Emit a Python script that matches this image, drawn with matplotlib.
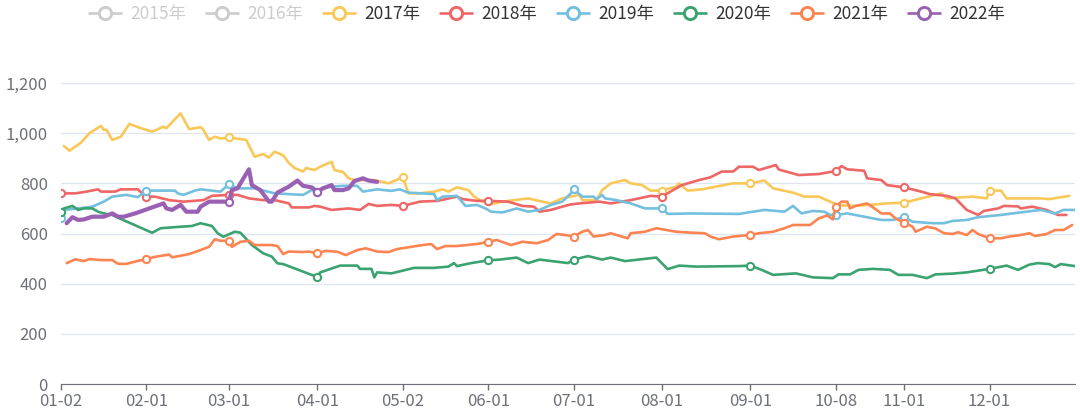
import matplotlib.pyplot as plt
import pandas as pd
from matplotlib.ticker import FuncFormatter

plt.rcParams['font.family'] = ['Noto Sans CJK SC', 'DejaVu Sans']

# category axis: MM-DD of a leap year, without 05-01 and 10-01..10-07 (never traded)
days = pd.date_range('2020-01-02', '2020-12-31').strftime('%m-%d')
skip = ['05-01'] + ['10-0%d' % i for i in range(1, 8)]
categories = [d for d in days if d not in skip]
pos = {d: i for i, d in enumerate(categories)}

tick_labels = ['01-02', '02-01', '03-01', '04-01', '05-02', '06-01',
               '07-01', '08-01', '09-01', '10-08', '11-01', '12-01']

legend_names = ['2015年', '2016年', '2017年', '2018年', '2019年', '2020年', '2021年', '2022年']
legend_colors = ['#cccccc', '#cccccc', '#fac858', '#ee6666', '#73c0de', '#3ba272', '#fc8452', '#9a60b4']
legend_active = [False, False, True, True, True, True, True, True]

# 2017
d17 = ['01-03', '01-05', '01-09', '01-12', '01-16', '01-17', '01-18', '01-20', '01-23', '01-26',
       '01-30', '02-03', '02-07', '02-08', '02-13', '02-16', '02-20', '02-21', '02-23', '02-25',
       '02-27', '03-01', '03-07', '03-10', '03-13', '03-15', '03-17', '03-20', '03-22', '03-24',
       '03-27', '03-28', '03-31', '04-02', '04-06', '04-07', '04-10', '04-12', '04-14', '04-21',
       '04-26', '05-02', '05-04', '05-08', '05-13', '05-16', '05-18', '05-21', '05-25', '05-27',
       '05-30', '06-02', '06-06', '06-15', '06-20', '06-23', '06-27', '07-03', '07-04', '07-09',
       '07-11', '07-14', '07-19', '07-21', '07-25', '07-28', '08-01', '08-06', '08-07', '08-10',
       '08-15', '08-20', '08-26', '09-01', '09-06', '09-09', '09-16', '09-20', '09-25', '09-29',
       '10-09', '10-14', '10-20', '10-26', '11-01', '11-07', '11-14', '11-16', '11-25', '11-30',
       '12-01', '12-05', '12-07', '12-19', '12-22', '12-29']
v17 = [949, 930, 962, 1000, 1029, 1013, 1013, 973, 986, 1037,
       1020, 1006, 1026, 1020, 1079, 1016, 1024, 1013, 973, 986,
       979, 983, 973, 906, 917, 903, 926, 912, 881, 861,
       847, 861, 853, 866, 886, 853, 845, 820, 813, 813,
       800, 824, 760, 760, 767, 776, 767, 784, 773, 747,
       727, 717, 727, 740, 727, 720, 740, 754, 733, 733,
       773, 800, 813, 800, 793, 771, 771, 787, 800, 771,
       776, 787, 800, 800, 811, 780, 763, 747, 747, 727,
       714, 710, 714, 720, 723, 740, 760, 740, 747, 740,
       771, 771, 740, 740, 737, 750]
m17 = ['03-01', '05-02', '08-01', '09-01', '11-01', '12-01']

# 2018
d18 = ['01-02', '01-07', '01-11', '01-15', '01-16', '01-21', '01-23', '01-29', '01-30', '02-01',
       '02-04', '02-09', '02-14', '02-21', '02-24', '03-01', '03-04', '03-08', '03-13', '03-17',
       '03-22', '03-23', '03-29', '03-31', '04-02', '04-06', '04-12', '04-16', '04-19', '04-22',
       '04-27', '05-02', '05-08', '05-14', '05-17', '05-21', '05-23', '05-28', '06-01', '06-08',
       '06-13', '06-17', '06-19', '06-23', '06-27', '06-30', '07-03', '07-10', '07-14', '07-21',
       '07-28', '08-01', '08-04', '08-08', '08-14', '08-18', '08-22', '08-26', '08-28', '09-02',
       '09-04', '09-10', '09-11', '09-18', '09-25', '10-08', '10-10', '10-12', '10-18', '10-19',
       '10-24', '10-26', '11-01', '11-07', '11-10', '11-16', '11-19', '11-23', '11-27', '11-29',
       '12-04', '12-06', '12-11', '12-12', '12-16', '12-21', '12-25', '12-28']
v18 = [760, 760, 767, 776, 767, 767, 776, 776, 765, 747,
       747, 733, 727, 733, 750, 754, 754, 740, 733, 733,
       720, 704, 704, 710, 707, 694, 700, 694, 718, 710,
       714, 710, 727, 730, 737, 747, 737, 730, 730, 727,
       710, 707, 687, 694, 707, 716, 720, 727, 720, 733,
       750, 747, 767, 793, 813, 824, 847, 847, 866, 866,
       853, 873, 855, 833, 837, 849, 869, 856, 850, 820,
       813, 793, 784, 767, 757, 750, 740, 694, 674, 690,
       700, 710, 708, 700, 707, 694, 674, 674]
m18 = ['01-02', '02-01', '03-01', '05-02', '06-01', '08-01', '10-08', '11-01']

# 2019
d19 = ['01-02', '01-03', '01-08', '01-13', '01-17', '01-20', '01-25', '01-29', '02-01', '02-11',
       '02-12', '02-14', '02-18', '02-20', '02-27', '03-01', '03-03', '03-05', '03-10', '03-17',
       '03-22', '03-27', '03-30', '04-01', '04-03', '04-10', '04-15', '04-17', '04-22', '04-27',
       '04-30', '05-04', '05-09', '05-13', '05-14', '05-16', '05-21', '05-24', '05-28', '05-31',
       '06-02', '06-06', '06-11', '06-15', '06-19', '06-23', '06-27', '06-30', '07-01', '07-04',
       '07-08', '07-09', '07-11', '07-12', '07-16', '07-21', '07-26', '08-01', '08-03', '08-11',
       '08-28', '09-02', '09-06', '09-13', '09-16', '09-19', '09-23', '09-27', '09-29', '10-08',
       '10-12', '10-18', '10-24', '10-28', '11-01', '11-04', '11-11', '11-15', '11-18', '11-23',
       '11-27', '12-05', '12-09', '12-14', '12-19', '12-24', '12-27', '12-31']
v19 = [660, 694, 700, 707, 727, 747, 754, 745, 771, 771,
       760, 754, 771, 776, 767, 797, 785, 780, 780, 760,
       757, 754, 773, 767, 784, 790, 790, 767, 776, 770,
       776, 763, 760, 757, 733, 747, 750, 710, 714, 700,
       687, 684, 700, 687, 694, 714, 727, 760, 776, 747,
       747, 737, 754, 740, 733, 720, 700, 700, 678, 680,
       678, 687, 694, 687, 710, 680, 690, 687, 674, 674,
       680, 667, 654, 654, 665, 647, 641, 641, 650, 654,
       665, 674, 680, 687, 694, 680, 694, 694]
m19 = ['01-02', '02-01', '03-01', '04-01', '07-01', '08-01', '10-08', '11-01']

# 2020
d20 = ['01-02', '01-03', '01-06', '01-08', '01-10', '01-13', '01-15', '01-17', '01-20', '01-23',
       '02-03', '02-06', '02-13', '02-17', '02-20', '02-24', '02-26', '02-28', '03-03', '03-05',
       '03-09', '03-13', '03-16', '03-18', '03-20', '03-24', '03-27', '03-30', '04-01', '04-02',
       '04-09', '04-15', '04-16', '04-20', '04-21', '04-22', '04-27', '05-06', '05-13', '05-18',
       '05-20', '05-21', '05-26', '06-01', '06-05', '06-11', '06-15', '06-19', '06-29', '07-01',
       '07-06', '07-11', '07-14', '07-19', '07-30', '08-03', '08-07', '08-13', '08-28', '09-01',
       '09-05', '09-09', '09-17', '09-23', '09-30', '10-09', '10-13', '10-16', '10-21', '10-27',
       '10-30', '11-04', '11-09', '11-12', '11-18', '11-23', '11-27', '12-01', '12-07', '12-11',
       '12-15', '12-18', '12-22', '12-24', '12-26', '12-31']
v20 = [687, 700, 710, 694, 700, 700, 687, 680, 674, 658,
       603, 621, 627, 630, 641, 630, 601, 587, 607, 603,
       554, 521, 508, 481, 478, 461, 448, 435, 427, 445,
       472, 472, 459, 459, 425, 445, 441, 463, 463, 468,
       482, 470, 482, 493, 496, 504, 482, 496, 482, 496,
       510, 496, 504, 490, 504, 458, 472, 468, 470, 472,
       455, 435, 441, 425, 422, 437, 437, 455, 459, 455,
       435, 435, 422, 437, 440, 445, 452, 459, 472, 455,
       476, 482, 478, 466, 478, 470]
m20 = ['01-02', '04-01', '06-01', '07-01', '09-01', '12-01']

# 2021
d21 = ['01-04', '01-07', '01-10', '01-12', '01-16', '01-20', '01-22', '01-25', '01-28', '02-01',
       '02-04', '02-09', '02-10', '02-16', '02-20', '02-23', '02-25', '02-27', '03-01', '03-02',
       '03-05', '03-08', '03-10', '03-16', '03-18', '03-20', '03-22', '03-27', '03-29', '04-01',
       '04-04', '04-08', '04-11', '04-15', '04-18', '04-22', '04-26', '04-29', '05-05', '05-09',
       '05-12', '05-14', '05-17', '05-21', '05-28', '06-01', '06-04', '06-09', '06-13', '06-18',
       '06-22', '06-25', '06-28', '07-01', '07-04', '07-06', '07-08', '07-12', '07-14', '07-16',
       '07-20', '07-21', '07-26', '07-30', '08-06', '08-10', '08-16', '08-18', '08-21', '08-26',
       '09-01', '09-04', '09-09', '09-13', '09-16', '09-22', '09-25', '09-28', '09-30', '10-08',
       '10-10', '10-12', '10-13', '10-15', '10-19', '10-21', '10-24', '10-27', '10-29', '11-01',
       '11-04', '11-05', '11-09', '11-12', '11-15', '11-18', '11-20', '11-23', '11-25', '11-27',
       '12-01', '12-05', '12-08', '12-12', '12-15', '12-17', '12-21', '12-24', '12-27', '12-30']
v21 = [482, 497, 490, 498, 494, 494, 479, 479, 488, 498,
       507, 516, 505, 518, 534, 547, 577, 571, 571, 547,
       567, 571, 554, 554, 550, 518, 528, 526, 528, 521,
       531, 527, 514, 534, 541, 528, 526, 538, 547, 554,
       558, 538, 550, 550, 558, 567, 574, 554, 567, 561,
       574, 598, 594, 588, 607, 614, 588, 594, 601, 594,
       581, 601, 607, 621, 607, 604, 601, 588, 577, 588,
       594, 601, 607, 621, 634, 634, 660, 672, 656, 707,
       727, 727, 700, 710, 720, 705, 680, 680, 660, 643,
       627, 607, 627, 620, 601, 598, 605, 594, 614, 598,
       581, 581, 588, 594, 601, 590, 598, 614, 614, 634]
m21 = ['02-01', '03-01', '04-01', '06-01', '07-01', '09-01', '10-08', '11-01', '12-01']

# 2022
d22 = ['01-04', '01-06', '01-08', '01-10', '01-13', '01-17', '01-20', '01-22', '01-24', '01-28',
       '02-07', '02-08', '02-10', '02-13', '02-15', '02-19', '02-20', '02-23', '03-01', '03-02',
       '03-04', '03-05', '03-08', '03-09', '03-12', '03-15', '03-16', '03-18', '03-22', '03-25',
       '03-27', '03-30', '04-01', '04-03', '04-06', '04-07', '04-10', '04-12', '04-14', '04-17',
       '04-19', '04-22']
v22 = [641, 665, 654, 656, 667, 667, 680, 667, 667, 680,
       720, 700, 694, 714, 687, 687, 707, 727, 727, 773,
       780, 800, 856, 793, 773, 727, 727, 763, 787, 811,
       790, 784, 767, 780, 793, 773, 773, 780, 809, 820,
       811, 806]
m22 = ['03-01', '04-01']

series = [
    ('#fac858', d17, v17, m17, 1.9),
    ('#ee6666', d18, v18, m18, 1.9),
    ('#73c0de', d19, v19, m19, 1.9),
    ('#3ba272', d20, v20, m20, 1.9),
    ('#fc8452', d21, v21, m21, 1.9),
    ('#9a60b4', d22, v22, m22, 3.0),
]

fig = plt.figure(figsize=(10.8, 4.15), dpi=100)
ax = fig.add_axes([61 / 1080, 31 / 415, 1014 / 1080, 301 / 415])

for i, (color, d, v, m, lw) in enumerate(series):
    ax.plot([pos[k] for k in d], v, color=color, lw=lw, zorder=3 + i * 0.1,
            solid_joinstyle='round', solid_capstyle='round')
    lookup = dict(zip(d, v))
    ax.plot([pos[k] for k in m], [lookup[k] for k in m], 'o', ms=5.2, mfc='white',
            mec=color, mew=1.5, zorder=3.05 + i * 0.1)

ax.set_xlim(0, len(categories) - 1)
ax.set_ylim(0, 1200)
ax.set_yticks(range(0, 1201, 200))
ax.yaxis.set_major_formatter(FuncFormatter(lambda y, _: '{:,.0f}'.format(y)))
ax.set_xticks([pos[t] for t in tick_labels])
ax.set_xticklabels(tick_labels)

ax.grid(axis='y', color='#e0e6f1', lw=1)
ax.set_axisbelow(True)
for s in ['top', 'right', 'left']:
    ax.spines[s].set_visible(False)
ax.spines['bottom'].set_color('#6e7079')
ax.spines['bottom'].set_zorder(2.5)
ax.tick_params(axis='x', length=4.3, width=1, color='#6e7079', labelcolor='#6e7079',
               labelsize=12, pad=2.5)
ax.tick_params(axis='y', length=0, labelcolor='#6e7079', labelsize=12, pad=9.5)
for t in ax.get_yticklabels():
    t.set_verticalalignment('center_baseline')

# legend drawn on a pixel-sized overlay
lax = fig.add_axes([0, 0, 1, 1], zorder=5)
lax.set_xlim(0, 1080)
lax.set_ylim(415, 0)
lax.axis('off')
for i, (name, c, on) in enumerate(zip(legend_names, legend_colors, legend_active)):
    x0 = 88 + 117 * i
    lax.plot([x0, x0 + 34], [13, 13], color=c, lw=1.9, solid_capstyle='butt')
    lax.plot(x0 + 17, 13, 'o', ms=8.8, mfc='white', mec=c, mew=2.1)
    lax.text(x0 + 42, 13.5, name, ha='left', va='center', fontsize=12.5,
             color='#333333' if on else '#cccccc')

fig.savefig('out.png', dpi=100)
